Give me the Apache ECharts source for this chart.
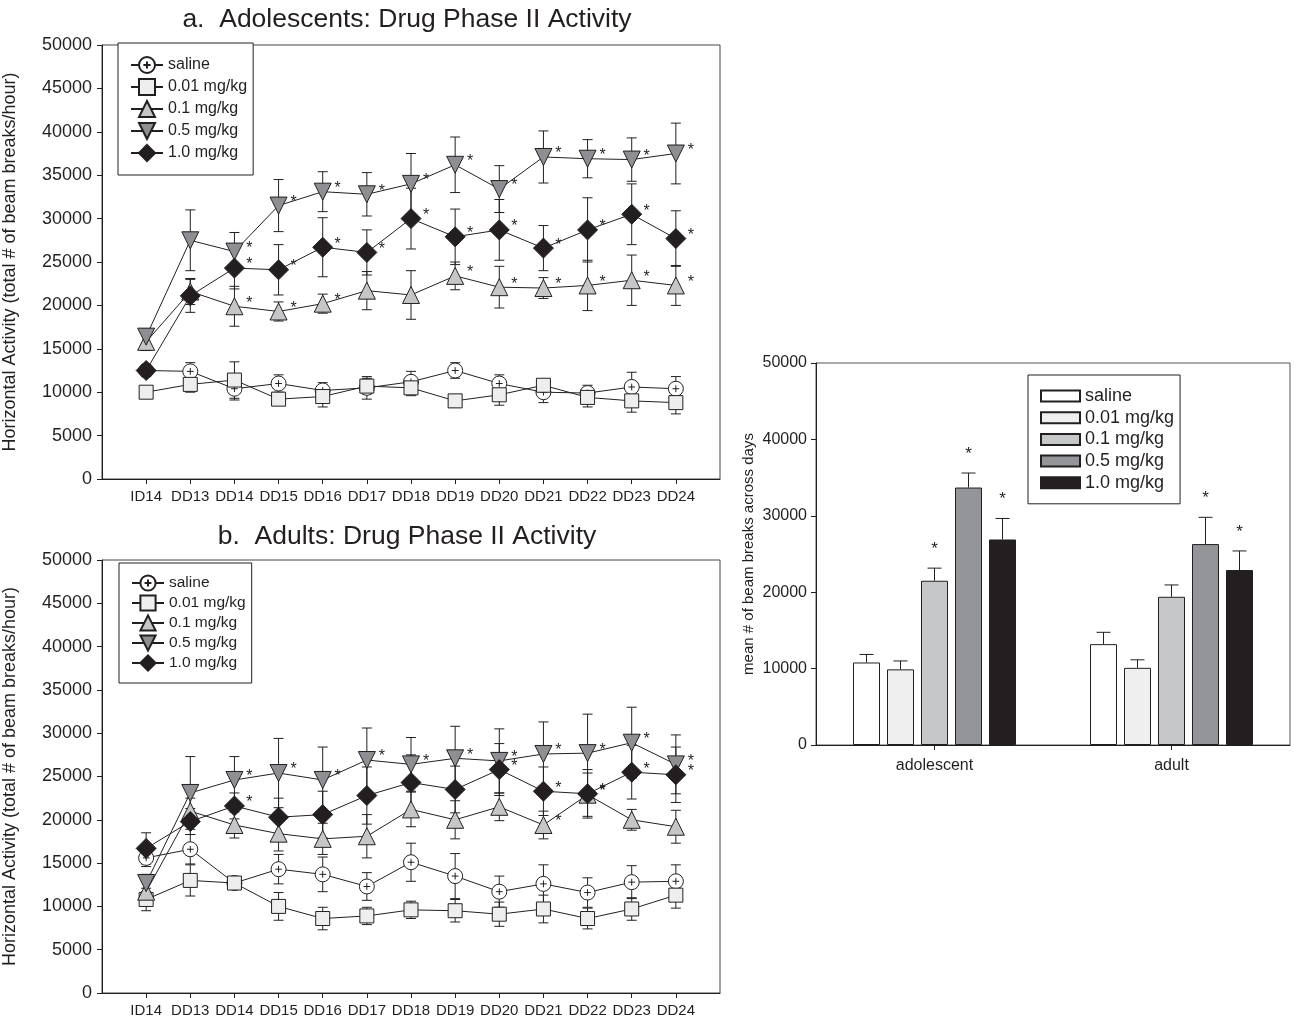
<!DOCTYPE html>
<html>
<head>
<meta charset="utf-8">
<title>Drug Phase II Activity</title>
<script src="https://cdn.jsdelivr.net/npm/echarts@6.0.0/dist/echarts.min.js"></script>
<style>
  html, body { margin: 0; padding: 0; background: #fff; }
  #chart { width: 1294px; height: 1021px; }
</style>
</head>
<body>
<div id="chart"></div>
<script>
// categories
var days = ['ID14', 'DD13', 'DD14', 'DD15', 'DD16', 'DD17', 'DD18', 'DD19', 'DD20', 'DD21', 'DD22', 'DD23', 'DD24'];
var doses = ['saline', '0.01 mg/kg', '0.1 mg/kg', '0.5 mg/kg', '1.0 mg/kg'];
var groups = ['adolescent', 'adult'];

// a. adolescents (mean, sem)
var adolSaline    = [12500, 12400, 10400, 11000, 10200, 10500, 11200, 12500, 11000, 10000, 9900, 10600, 10400];
var adolSalineErr = [600, 1000, 1300, 1000, 900, 1300, 1200, 900, 1000, 1200, 900, 1700, 1400];
var adol001       = [10000, 10900, 11400, 9200, 9500, 10700, 10500, 9000, 9700, 10800, 9400, 9000, 8800];
var adol001Err    = [300, 900, 2100, 600, 1200, 900, 900, 700, 1200, 500, 1100, 1300, 1300];
var adol01        = [15800, 21600, 19900, 19300, 20200, 21700, 21200, 23400, 22100, 22000, 22300, 22900, 22300];
var adol01Err     = [1000, 1500, 2300, 1100, 1100, 2200, 2800, 1600, 2400, 1200, 2900, 2900, 2300];
var adol05        = [16400, 27500, 26200, 31500, 33100, 32800, 34000, 36200, 33400, 37100, 36900, 36800, 37500];
var adol05Err     = [900, 3500, 2200, 3000, 2300, 2500, 3500, 3200, 2700, 3000, 2200, 2500, 3500];
var adol10        = [12500, 21100, 24300, 24100, 26700, 26100, 30000, 27900, 28700, 26600, 28700, 30500, 27700];
var adol10Err     = [700, 1900, 2400, 2900, 3400, 2600, 3500, 3200, 3500, 2600, 3700, 3500, 3200];

// b. adults (mean, sem)
var adultSaline    = [15600, 16600, 12700, 14300, 13700, 12300, 15100, 13500, 11700, 12600, 11600, 12800, 12900];
var adultSalineErr = [1000, 1700, 600, 1700, 2000, 1600, 2200, 2600, 1800, 2200, 1700, 1900, 1900];
var adult001       = [10800, 13000, 12700, 10000, 8600, 8900, 9600, 9500, 9100, 9700, 8600, 9700, 11300];
var adult001Err    = [1300, 1800, 600, 1600, 1300, 1000, 1000, 1300, 1400, 1600, 1200, 1300, 1500];
var adult01        = [11700, 21000, 19400, 18400, 17800, 18100, 21200, 20000, 21500, 19400, 22900, 20000, 19200];
var adult01Err     = [1200, 1500, 1500, 2000, 1800, 2500, 2000, 2200, 1600, 1600, 2500, 1200, 1900];
var adult05        = [12700, 23100, 24600, 25400, 24600, 26900, 26400, 27100, 26800, 27600, 27700, 28900, 26400];
var adult05Err     = [1000, 4200, 2700, 4000, 3800, 3700, 3100, 3700, 3700, 3700, 4500, 4100, 3400];
var adult10        = [16700, 19800, 21600, 20300, 20600, 22800, 24300, 23500, 25800, 23300, 23000, 25500, 25200];
var adult10Err     = [1800, 1500, 1500, 2200, 2700, 3300, 3200, 2700, 3000, 2800, 2800, 3100, 3200];

// day indices marked with *
var adolSig01  = [2, 3, 4, 7, 8, 9, 10, 11, 12];
var adolSig05  = [2, 3, 4, 5, 6, 7, 8, 9, 10, 11, 12];
var adolSig10  = [2, 3, 4, 5, 6, 7, 8, 9, 10, 11, 12];
var adultSig01 = [9, 10];
var adultSig05 = [2, 3, 4, 5, 6, 7, 8, 9, 10, 11, 12];
var adultSig10 = [2, 8, 9, 10, 11, 12];

// mean across days (adolescent, adult)
var barSaline    = [10800, 13200];
var barSalineErr = [1050, 1550];
var bar001       = [9900, 10100];
var bar001Err    = [1100, 1050];
var bar01        = [21500, 19400];
var bar01Err     = [1650, 1550];
var bar05        = [33700, 26300];
var bar05Err     = [1900, 3500];
var bar10        = [26900, 22900];
var bar10Err     = [2750, 2500];
var barSig       = [[], [], [0], [0, 1], [0, 1]];

var ink = '#231f20';
var font = 'Liberation Sans, Arial, sans-serif';
var fills = ['#ffffff', '#eeeeef', '#c5c6c8', '#8e8f92', '#231f20'];
var barFills = ['#ffffff', '#efeff0', '#c6c7c9', '#939598', '#231f20'];
var plusCircle = 'path://M0,-10A10,10,0,1,1,0,10A10,10,0,1,1,0,-10ZM0,-4.5L0,4.5M-4.5,0L4.5,0';
var symbols = [plusCircle, 'rect', 'triangle', 'triangle', 'diamond'];
var symSizes = [15, 14, 17, 17, 20];
var symRotate = [0, 0, 0, 180, 0];

var chart = echarts.init(document.getElementById('chart'));

function lineSeries(gi, means, k) {
    return {
        type: 'line', name: doses[k], xAxisIndex: gi, yAxisIndex: gi,
        data: means.map(function (v, i) { return [i + 1, v]; }),
        symbol: symbols[k], symbolSize: symSizes[k], symbolRotate: symRotate[k],
        showAllSymbol: true, z: 3,
        lineStyle: { color: ink, width: 1 },
        itemStyle: { color: fills[k], borderColor: ink, borderWidth: 1 },
        emphasis: { disabled: true }
    };
}

function errSeries(gi, means, errs, sig) {
    return {
        type: 'custom', xAxisIndex: gi, yAxisIndex: gi, z: 2, silent: true,
        data: means.map(function (v, i) { return [i + 1, v, errs[i], sig.indexOf(i) >= 0 ? 1 : 0]; }),
        renderItem: function (params, api) {
            var x = api.value(0), m = api.value(1), e = api.value(2);
            var top = api.coord([x, m + e]), bot = api.coord([x, m - e]), mid = api.coord([x, m]);
            var st = { stroke: ink, lineWidth: 1 };
            var kids = [
                { type: 'line', shape: { x1: top[0], y1: top[1], x2: bot[0], y2: bot[1] }, style: st },
                { type: 'line', shape: { x1: top[0] - 5, y1: top[1], x2: top[0] + 5, y2: top[1] }, style: st },
                { type: 'line', shape: { x1: bot[0] - 5, y1: bot[1], x2: bot[0] + 5, y2: bot[1] }, style: st }
            ];
            if (api.value(3)) {
                kids.push({ type: 'text', x: mid[0] + 15, y: mid[1] - 3,
                    style: { text: '*', fontSize: 16, fontFamily: font, fill: ink, align: 'center', verticalAlign: 'middle' } });
            }
            return { type: 'group', children: kids };
        }
    };
}

var barW = 27, barGapPx = 7;
function barErrSeries(k, means, errs) {
    return {
        type: 'custom', xAxisIndex: 2, yAxisIndex: 2, z: 3, silent: true,
        data: means.map(function (v, i) { return [i, v, errs[i], barSig[k].indexOf(i) >= 0 ? 1 : 0]; }),
        renderItem: function (params, api) {
            var c = api.coord([api.value(0), api.value(1)]);
            var t = api.coord([api.value(0), api.value(1) + api.value(2)]);
            var x = c[0] + (k - 2) * (barW + barGapPx);
            var st = { stroke: ink, lineWidth: 1 };
            var kids = [
                { type: 'line', shape: { x1: x, y1: c[1], x2: x, y2: t[1] }, style: st },
                { type: 'line', shape: { x1: x - 7, y1: t[1], x2: x + 7, y2: t[1] }, style: st }
            ];
            if (api.value(3)) {
                kids.push({ type: 'text', x: x, y: t[1] - 19,
                    style: { text: '*', fontSize: 17, fontFamily: font, fill: ink, align: 'center', verticalAlign: 'middle' } });
            }
            return { type: 'group', children: kids };
        }
    };
}

var plain = function (v) { return String(v); };
var dayAxisData = [''].concat(days).concat([' ']);
function dayAxis(gi) {
    return {
        type: 'category', gridIndex: gi, data: dayAxisData, boundaryGap: false,
        axisLine: { show: true, lineStyle: { color: ink, width: 1 } },
        axisTick: { show: true, length: 5, lineStyle: { color: ink },
            interval: function (idx) { return idx > 0 && idx < dayAxisData.length - 1; } },
        axisLabel: { interval: 0, fontSize: 15, color: ink, fontFamily: font, margin: 10 },
        splitLine: { show: false }
    };
}
function countAxis(gi) {
    return {
        type: 'value', gridIndex: gi, min: 0, max: 50000, interval: 5000,
        name: 'Horizontal Activity (total # of beam breaks/hour)',
        nameLocation: 'middle', nameGap: 83, nameRotate: 90,
        nameTextStyle: { fontSize: 18, color: ink, fontFamily: font },
        axisLine: { show: true, lineStyle: { color: ink, width: 1 } },
        axisTick: { show: true, length: 5, lineStyle: { color: ink } },
        axisLabel: { fontSize: 18, color: ink, fontFamily: font, margin: 10, formatter: plain },
        splitLine: { show: false }
    };
}

var option = {
    animation: false,
    textStyle: { fontFamily: font },
    graphic: [
        { type: 'text', x: 407, y: 20, style: { text: 'a.  Adolescents: Drug Phase II Activity', fontSize: 26.5, fontFamily: font, fill: ink, align: 'center', verticalAlign: 'middle' } },
        { type: 'text', x: 407, y: 537, style: { text: 'b.  Adults: Drug Phase II Activity', fontSize: 26.5, fontFamily: font, fill: ink, align: 'center', verticalAlign: 'middle' } }
    ],
    grid: [
        { left: 101, top: 45, width: 619, height: 434, show: true, borderColor: '#444', borderWidth: 1 },
        { left: 101, top: 560, width: 619, height: 433, show: true, borderColor: '#444', borderWidth: 1 },
        { left: 816, top: 363, width: 474, height: 382, show: true, borderColor: '#555', borderWidth: 1 }
    ],
    legend: [
        { orient: 'vertical', left: 118, top: 43, padding: [12, 6, 12, 12], data: doses, selectedMode: false,
          itemWidth: 32, itemHeight: 20, itemGap: 2,
          backgroundColor: '#fff', borderColor: ink, borderWidth: 1,
          textStyle: { fontSize: 16, color: ink, fontFamily: font, height: 20, lineHeight: 20 } },
        { orient: 'vertical', left: 119, top: 563, padding: [10.5, 6, 10.5, 12], data: doses, selectedMode: false,
          itemWidth: 32, itemHeight: 19, itemGap: 1,
          backgroundColor: '#fff', borderColor: ink, borderWidth: 1,
          textStyle: { fontSize: 15.5, color: ink, fontFamily: font, height: 19, lineHeight: 19 } },
        { orient: 'vertical', left: 1028, top: 375, padding: [12, 6, 12, 12], selectedMode: false,
          data: doses.map(function (d) { return 'bar ' + d; }),
          formatter: function (n) { return n.slice(4); },
          icon: 'rect', itemWidth: 39, itemHeight: 11, itemGap: 3.7,
          backgroundColor: '#fff', borderColor: ink, borderWidth: 1,
          textStyle: { fontSize: 18, color: ink, fontFamily: font, height: 18, lineHeight: 18 } }
    ],
    xAxis: [
        dayAxis(0),
        dayAxis(1),
        { type: 'category', gridIndex: 2, data: groups,
          axisLine: { show: true, lineStyle: { color: ink, width: 1 } },
          axisTick: { show: true, alignWithLabel: true, length: 5, lineStyle: { color: ink } },
          axisLabel: { fontSize: 16, color: ink, fontFamily: font, margin: 13 } }
    ],
    yAxis: [
        countAxis(0),
        countAxis(1),
        { type: 'value', gridIndex: 2, min: 0, max: 50000, interval: 10000,
          name: 'mean # of beam breaks across days', nameLocation: 'middle', nameGap: 60, nameRotate: 90,
          nameTextStyle: { fontSize: 15, color: ink, fontFamily: font },
          axisLine: { show: true, lineStyle: { color: ink, width: 1 } },
          axisTick: { show: true, length: 5, lineStyle: { color: ink } },
          axisLabel: { fontSize: 16, color: ink, fontFamily: font, margin: 9, formatter: plain },
          splitLine: { show: false } }
    ],
    series: []
};

var adolSets = [[adolSaline, adolSalineErr, []], [adol001, adol001Err, []], [adol01, adol01Err, adolSig01],
                [adol05, adol05Err, adolSig05], [adol10, adol10Err, adolSig10]];
var adultSets = [[adultSaline, adultSalineErr, []], [adult001, adult001Err, []], [adult01, adult01Err, adultSig01],
                 [adult05, adult05Err, adultSig05], [adult10, adult10Err, adultSig10]];
[adolSets, adultSets].forEach(function (sets, gi) {
    sets.forEach(function (s) { option.series.push(errSeries(gi, s[0], s[1], s[2])); });
    sets.forEach(function (s, k) { option.series.push(lineSeries(gi, s[0], k)); });
});

var barSets = [[barSaline, barSalineErr], [bar001, bar001Err], [bar01, bar01Err], [bar05, bar05Err], [bar10, bar10Err]];
barSets.forEach(function (s, k) {
    option.series.push({
        type: 'bar', name: 'bar ' + doses[k], xAxisIndex: 2, yAxisIndex: 2,
        data: s[0], barWidth: barW, barGap: (barGapPx / barW * 100) + '%',
        itemStyle: { color: barFills[k], borderColor: ink, borderWidth: 1 },
        emphasis: { disabled: true }
    });
    option.series.push(barErrSeries(k, s[0], s[1]));
});

chart.setOption(option);
</script>
</body>
</html>
